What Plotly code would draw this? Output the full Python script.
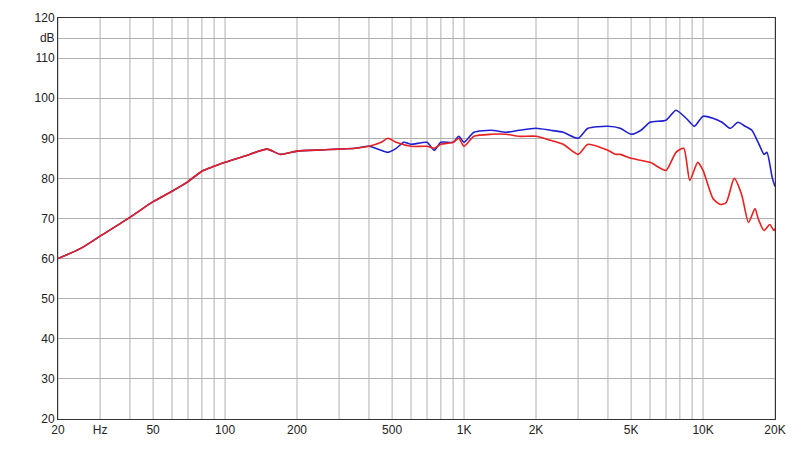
import numpy as np
import plotly.graph_objects as go

SHARED_F = [20, 25, 30, 40, 50, 60, 70, 80, 90, 100, 120, 150, 170, 200, 250, 300, 350, 400]
SHARED_DB = [60, 62.6, 65.6, 70.3, 74.2, 76.8, 79.2, 81.8, 83, 84, 85.5, 87.3, 86, 86.8, 87.1, 87.3, 87.5, 88]

BLUE_F = [450, 480, 520, 560, 600, 700, 750, 800, 900, 950, 1000, 1100, 1300, 1500, 1700, 2000,
          2300, 2600, 3000, 3300, 4000, 4500, 5000, 5500, 6000, 7000, 7700, 8500, 9200, 10000,
          11000, 12000, 13000, 14000, 15000, 16000, 17000, 18000, 18500, 19500, 20000]
BLUE_DB = [87, 86.5, 87.5, 89, 88.5, 89, 87, 89, 89, 90.5, 89, 91.5, 92, 91.5, 92, 92.5,
           92, 91.5, 90, 92.5, 93, 92.5, 91, 92, 94, 94.5, 97, 95, 93, 95.5,
           95, 94, 92.5, 94, 93, 92, 89, 86, 86.5, 80, 78]

RED_F = [450, 480, 520, 600, 700, 750, 800, 900, 950, 1000, 1100, 1300, 1500, 1700, 2000, 2300,
         2600, 3000, 3300, 4000, 4300, 4500, 5000, 6000, 7000, 7700, 8300, 8800, 9500, 10000,
         11000, 11800, 12500, 13500, 14500, 15500, 16500, 17000, 18000, 19000, 19800, 20000]
RED_DB = [89, 90, 89, 88, 88, 87.5, 88.5, 89, 90, 88, 90.5, 91, 91, 90.5, 90.5, 89.5,
          88.5, 86, 88.5, 87, 86, 86, 85, 84, 82, 86.5, 87.5, 79.5, 84, 82,
          75, 73.5, 74, 80, 76, 69, 72.5, 70, 67, 68.5, 67, 67.5]

MAJOR_VALS = [20, 30, 50, 100, 200, 500, 1000, 2000, 5000, 10000, 20000]
MAJOR_TEXT = ["20", "Hz", "50", "100", "200", "500", "1K", "2K", "5K", "10K", "20K"]
Y_VALS = list(range(20, 121, 10)) + [115]
Y_TEXT = [str(v) for v in range(20, 121, 10)] + ["dB"]

fig = go.Figure()
for f, db, color in [(SHARED_F + BLUE_F, SHARED_DB + BLUE_DB, "#2020d0"),
                     (SHARED_F + RED_F, SHARED_DB + RED_DB, "#e82020")]:
    fig.add_trace(go.Scatter(x=f, y=db, mode="lines", line=dict(color=color, width=1.6),
                             line_shape="spline", line_smoothing=0.6, showlegend=False))

# vertical grid at every 1..9 decade step
grid = [m * 10 ** e for e in range(1, 5) for m in range(1, 10) if 20 <= m * 10 ** e <= 20000]
for g in grid:
    fig.add_shape(type="line", x0=g, x1=g, y0=20, y1=120, xref="x", yref="y",
                  line=dict(color="#b0b0b0", width=1), layer="below")

fig.update_layout(
    width=804, height=461,
    margin=dict(l=50, r=37, t=10, b=50, autoexpand=False),
    paper_bgcolor="white", plot_bgcolor="white",
    font=dict(family="Liberation Sans, Arial", size=12, color="#222"),
    xaxis=dict(type="log", range=[np.log10(20), np.log10(20000)], tickvals=MAJOR_VALS,
               ticktext=MAJOR_TEXT, showgrid=False, showline=True, linecolor="#333",
               mirror=True, ticks="", zeroline=False, automargin=False),
    yaxis=dict(range=[20, 120], tickvals=Y_VALS, ticktext=Y_TEXT, showgrid=True,
               gridcolor="#b0b0b0", showline=True, linecolor="#333", mirror=True,
               ticks="", zeroline=False, automargin=False),
)
fig.write_html("out.html")
